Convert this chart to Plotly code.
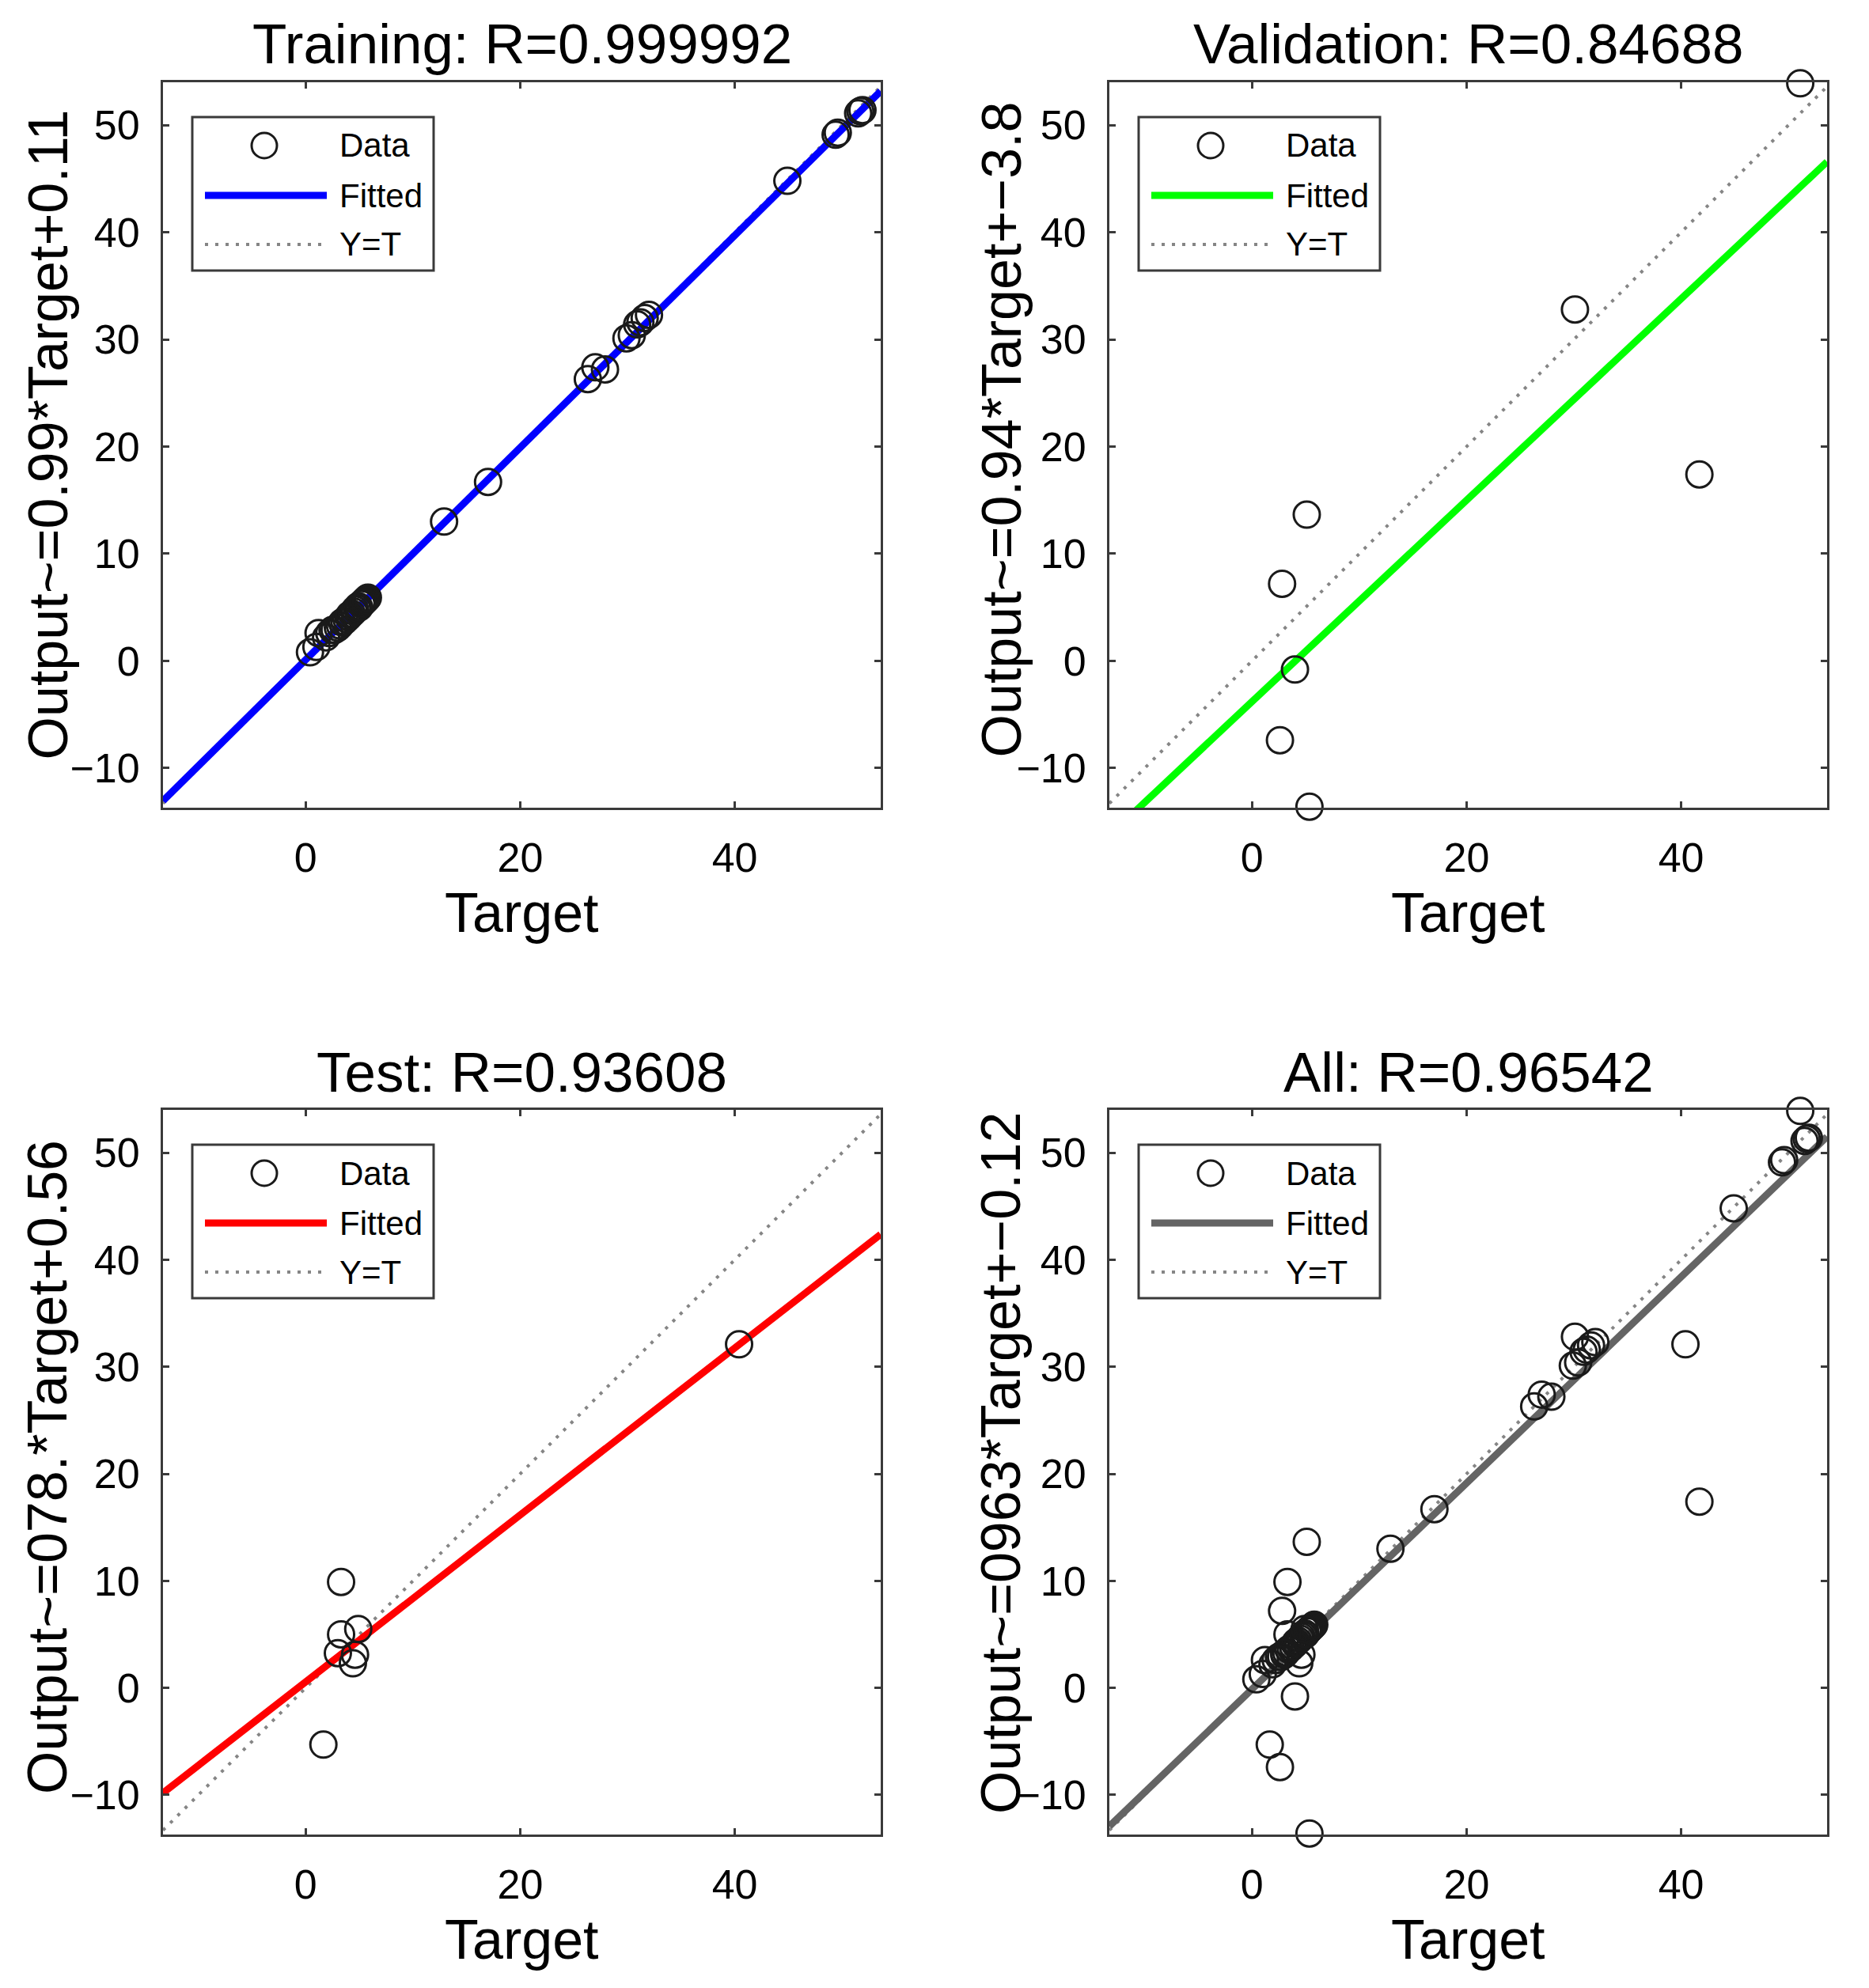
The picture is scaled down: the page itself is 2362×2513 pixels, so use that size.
import plotly.graph_objects as go

# ---------------- data ----------------
panel_names = ["Training", "Validation", "Test", "All"]
r_values = ["0.999992", "0.84688", "0.93608", "0.96542"]
ylabels = [
    "Output~=0.99*Target+0.11",
    "Output~=0.94*Target+\u22123.8",
    "Output~=078.*Target+0.56",
    "Output~=0963*Target+\u22120.12",
]
fit_slope = [0.99, 0.94, 0.78, 0.963]
fit_intercept = [0.11, -3.8, 0.56, -0.12]
fit_colors = ["#0000ff", "#00ff00", "#ff0000", "#646464"]

train_target = [0.4, 1.0, 1.2, 1.9, 2.2, 2.5, 2.7, 3.0, 3.2, 3.4, 3.6, 3.8, 4.0, 4.1,
                4.3, 4.5, 4.6, 4.8, 4.9, 5.0, 5.2, 5.3, 5.4, 5.5, 5.6, 5.7, 5.8,
                12.9, 17.0, 26.3, 27.0, 27.9, 29.9, 30.4, 30.9, 31.2, 31.6, 32.0,
                44.9, 49.4, 49.6, 51.5, 51.7, 51.9]
train_output = [0.8, 1.3, 2.6, 2.2, 2.6, 2.9, 2.9, 3.1, 3.3, 3.6, 3.7, 3.9, 4.1, 4.3,
                4.4, 4.6, 4.8, 4.9, 5.1, 5.0, 5.3, 5.4, 5.5, 5.6, 5.7, 5.8, 5.9,
                13.0, 16.7, 26.3, 27.4, 27.2, 30.1, 30.4, 31.4, 31.6, 32.0, 32.3,
                44.8, 49.1, 49.3, 51.1, 51.3, 51.4]

val_target = [51.1, 30.1, 41.7, 5.1, 2.8, 4.0, 2.6, 5.35]
val_output = [53.9, 32.8, 17.4, 13.65, 7.2, -0.8, -7.4, -13.6]

test_target = [40.4, 3.3, 3.3, 4.9, 3.0, 4.6, 4.4, 1.65]
test_output = [32.1, 9.9, 5.0, 5.5, 3.25, 3.1, 2.3, -5.3]

x_ticks = [0, 20, 40]
y_ticks = [-10, 0, 10, 20, 30, 40, 50]
x_range = [-13.3, 53.6]
y_range = [-13.7, 54.0]

legend_labels = ["Data", "Fitted", "Y=T"]

all_target = train_target + val_target + test_target
all_output = train_output + val_output + test_output
panel_data = [
    (train_target, train_output),
    (val_target, val_output),
    (test_target, test_output),
    (all_target, all_output),
]

# ---------------- layout geometry (pixels) ----------------
W, H = 2362, 2513
OFF = 8  # page body margin
FONT = "Liberation Sans, Arial, Helvetica, sans-serif"
panels_px = [
    (206, 1113, 104, 1021),
    (1402, 2309, 104, 1021),
    (206, 1113, 1403, 2319),
    (1402, 2309, 1403, 2319),
]
ylabel_x = [60, 1265, 60, 1265]
ylabel_dy = [-13, -19, -6, -11]


def px(x):
    return (x - OFF) / W


def py(y):
    return 1 - (y - OFF) / H


fig = go.Figure()
shapes = []
annotations = []
AXCOL = "#3a3a3a"
DOTCOL = "#858585"
DOTDASH = "4px,9px"

for i in range(4):
    L, R, T, B = panels_px[i]
    sfx = "" if i == 0 else str(i + 1)
    xa, ya = "x" + sfx, "y" + sfx
    tx, ty = panel_data[i]

    fx = [x_range[0], x_range[1]]
    # Y=T line
    fig.add_trace(go.Scatter(x=fx, y=fx, mode="lines", xaxis=xa, yaxis=ya,
                             line=dict(color=DOTCOL, width=4, dash=DOTDASH),
                             showlegend=False, hoverinfo="skip"))
    # fitted line
    fy = [fit_slope[i] * v + fit_intercept[i] for v in fx]
    fig.add_trace(go.Scatter(x=fx, y=fy, mode="lines", xaxis=xa, yaxis=ya,
                             line=dict(color=fit_colors[i], width=9),
                             showlegend=False, hoverinfo="skip"))
    # data
    fig.add_trace(go.Scatter(x=tx, y=ty, mode="markers", xaxis=xa, yaxis=ya,
                             marker=dict(symbol="circle-open", size=33,
                                         color="#1a1a1a", line=dict(width=3)),
                             cliponaxis=False, showlegend=False))

    axcommon = dict(showgrid=False, zeroline=False, showline=True, linecolor=AXCOL,
                    linewidth=3, mirror="ticks", ticks="inside", ticklen=8,
                    tickwidth=3, tickcolor=AXCOL,
                    tickfont=dict(family=FONT, size=52, color="black"))
    fig.layout["xaxis" + sfx] = dict(domain=[px(L), px(R)], range=x_range,
                                      tickvals=x_ticks, anchor=ya,
                                      ticklabelstandoff=16, **axcommon)
    fig.layout["yaxis" + sfx] = dict(domain=[py(B), py(T)], range=y_range,
                                      tickvals=y_ticks, anchor=xa,
                                      ticklabelstandoff=16, **axcommon)

    cx = (L + R) / 2
    cy = (T + B) / 2
    # title
    annotations.append(dict(text=f"{panel_names[i]}: R={r_values[i]}", x=px(cx),
                            y=py(T - 48), xref="paper", yref="paper",
                            xanchor="center", yanchor="middle", showarrow=False,
                            font=dict(family=FONT, size=71, color="black")))
    # x label
    annotations.append(dict(text="Target", x=px(cx), y=py(B + 133), xref="paper",
                            yref="paper", xanchor="center", yanchor="middle",
                            showarrow=False,
                            font=dict(family=FONT, size=70, color="black")))
    # y label
    annotations.append(dict(text=ylabels[i], x=px(ylabel_x[i]), y=py(cy + ylabel_dy[i]),
                            xref="paper", yref="paper", xanchor="center",
                            yanchor="middle", textangle=-90, showarrow=False,
                            font=dict(family=FONT, size=70, color="black")))

    # legend (drawn manually to mimic MATLAB style)
    shapes.append(dict(type="rect", xref="paper", yref="paper",
                       x0=px(L + 37), x1=px(L + 342), y0=py(T + 238), y1=py(T + 44),
                       line=dict(color=AXCOL, width=3), fillcolor="white", layer="above"))
    r = 16
    mx, my = L + 128, T + 80
    shapes.append(dict(type="circle", xref="paper", yref="paper",
                       x0=px(mx - r), x1=px(mx + r), y0=py(my + r), y1=py(my - r),
                       line=dict(color="#1a1a1a", width=3), layer="above"))
    shapes.append(dict(type="line", xref="paper", yref="paper",
                       x0=px(L + 53), x1=px(L + 207), y0=py(T + 143), y1=py(T + 143),
                       line=dict(color=fit_colors[i], width=9), layer="above"))
    shapes.append(dict(type="line", xref="paper", yref="paper",
                       x0=px(L + 53), x1=px(L + 207), y0=py(T + 205), y1=py(T + 205),
                       line=dict(color=DOTCOL, width=4, dash=DOTDASH), layer="above"))
    for k, yy in enumerate([T + 80, T + 143, T + 205]):
        annotations.append(dict(text=legend_labels[k], x=px(L + 221), y=py(yy),
                                xref="paper", yref="paper", xanchor="left",
                                yanchor="middle", showarrow=False,
                                font=dict(family=FONT, size=42, color="black")))

fig.update_layout(width=W, height=H, margin=dict(l=0, r=0, t=0, b=0),
                  paper_bgcolor="white", plot_bgcolor="white",
                  shapes=shapes, annotations=annotations, showlegend=False)

fig.write_html("out.html")
